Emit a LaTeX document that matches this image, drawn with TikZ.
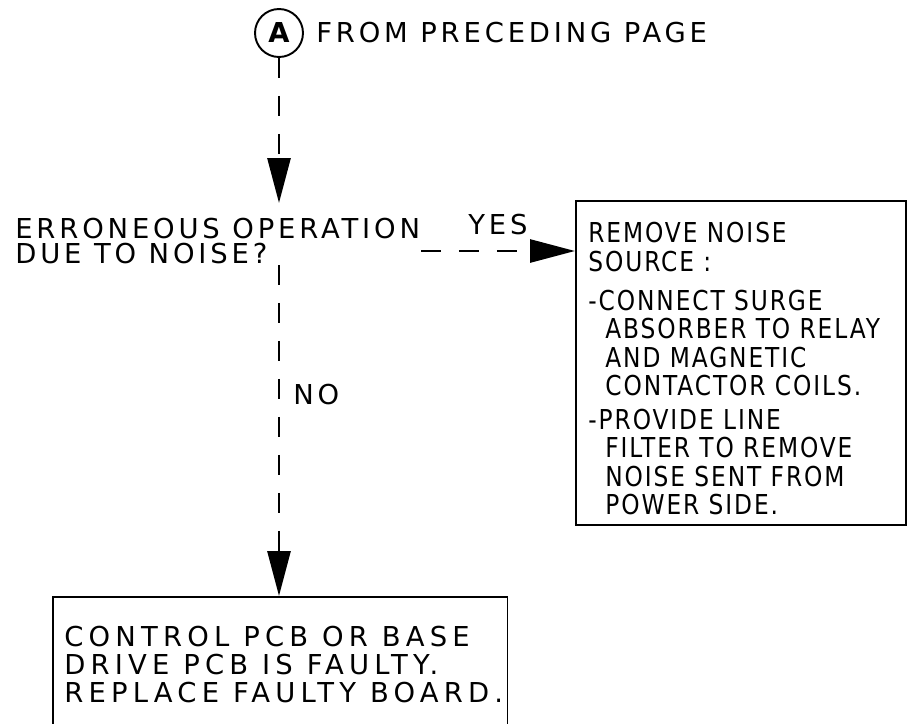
\documentclass[tikz,border=0pt]{standalone}
\usepackage{fontspec}
\setmainfont[LetterSpace=14]{DejaVu Sans}
\newfontfamily\boxfont[FakeStretch=0.85, LetterSpace=7]{DejaVu Sans}
\newfontfamily\wideboxfont[LetterSpace=19]{DejaVu Sans}
\usetikzlibrary{arrows.meta,positioning}
\tikzset{
  conn/.style={draw, circle, line width=1.1pt, minimum size=0.96cm, inner sep=0pt, font=\fontsize{15.6}{16}\selectfont\bfseries},
  note/.style={inner sep=0pt, align=left},
  panel/.style={draw, line width=0.9pt, anchor=north west, inner sep=0pt},
  flow/.style={line width=1.6pt, dash pattern=on 0.4cm off 0.36cm, -{Triangle[length=0.9cm, width=0.46cm]}}
}

\begin{document}
\begin{tikzpicture}[x=0.02cm, y=-0.02cm, font=\fontsize{15.6}{16.2}\selectfont]
  \useasboundingbox (0,0) rectangle (907,724);
  % off-page connector and decision
  \node[conn] (from) at (279,33) {A};
  \node[note, right=0.24cm of from] (fromtext) {FROM PRECEDING PAGE};
  \node[note, anchor=north west, font=\fontsize{15.6}{14.2}\selectfont] (q) at (15,218) {ERRONEOUS OPERATION\\DUE TO NOISE?};
  \coordinate (qtop) at (279,203);
  \coordinate (qbot) at (279,265);
  \coordinate (yes) at (421,251);

  % remedy box
  \node[panel, minimum width=6.6cm, minimum height=6.48cm] (fix) at (575,200) {};
  \node[note, font=\fontsize{15.6}{16.2}\selectfont\boxfont, below right=0.44cm and 0.26cm of fix.north west] (fixtext) {REMOVE NOISE\\SOURCE :\\[6pt]-CONNECT SURGE\\\hspace*{0.34cm}ABSORBER TO RELAY\\\hspace*{0.34cm}AND MAGNETIC\\\hspace*{0.34cm}CONTACTOR COILS.\\[3pt]-PROVIDE LINE\\\hspace*{0.34cm}FILTER TO REMOVE\\\hspace*{0.34cm}NOISE SENT FROM\\\hspace*{0.34cm}POWER SIDE.};

  % faulty board box (runs off the page)
  \node[panel, minimum width=9.1cm, minimum height=3cm] (fail) at (52,596) {};
  \node[note, font=\fontsize{15.6}{15.9}\selectfont\wideboxfont, below right=0.6cm and 0.24cm of fail.north west] (failtext) {CONTROL PCB OR BASE\\DRIVE PCB IS FAULTY.\\REPLACE FAULTY BOARD.};

  \draw[flow] (from) -- (qtop);
  \draw[flow] (yes) -- node[note, pos=0.5, above=0.3cm]{YES} (yes -| fix.west);
  \draw[flow] (qbot) -- node[note, pos=0.39, right=0.26cm]{NO} (qbot |- fail.north);
\end{tikzpicture}
\end{document}
